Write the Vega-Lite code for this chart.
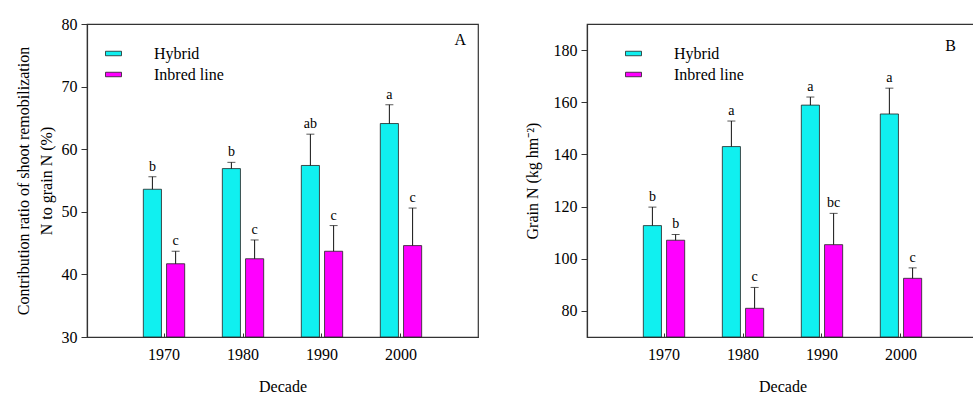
{
  "$schema": "https://vega.github.io/schema/vega-lite/v6.json",
  "padding": {"left": 14, "top": 15, "right": 0, "bottom": 0},
  "background": "white",
  "config": {
    "font": "Liberation Serif",
    "view": {"stroke": "#333", "strokeWidth": 1.2},
    "axis": {
      "labelFont": "Liberation Serif", "labelFontSize": 16, "labelColor": "black",
      "titleFont": "Liberation Serif", "titleFontSize": 16, "titleFontWeight": "normal", "titleColor": "black",
      "domainColor": "#333", "domainWidth": 1.2, "tickColor": "#333", "grid": false
    },
    "axisX": {"tickSize": -4, "labelPadding": 13, "labelAngle": 0, "titlePadding": 16},
    "axisY": {"tickSize": 6, "labelPadding": 4},
    "legend": {
      "orient": "none", "title": null,
      "symbolType": "M-1,-0.28H1V0.28H-1Z", "symbolSize": 256,
      "symbolStrokeColor": "#222", "symbolStrokeWidth": 0.8,
      "labelFont": "Liberation Serif", "labelFontSize": 16, "labelColor": "black",
      "labelOffset": 32, "rowPadding": 4
    },
    "title": {"font": "Liberation Serif", "fontSize": 16, "fontWeight": "normal", "color": "black"}
  },
  "resolve": {"legend": {"color": "independent"}, "scale": {"y": "independent"}},
  "spacing": 44,
  "hconcat": [
    {
      "width": 391, "height": 313,
      "title": {"text": "A", "anchor": "end", "offset": -30, "dx": -12, "dy": 2},
      "data": {"values": [
        {"decade": "1970", "type": "Hybrid", "value": 53.6, "upper": 55.6, "letter": "b"},
        {"decade": "1970", "type": "Inbred line", "value": 41.7, "upper": 43.7, "letter": "c"},
        {"decade": "1980", "type": "Hybrid", "value": 56.9, "upper": 57.9, "letter": "b"},
        {"decade": "1980", "type": "Inbred line", "value": 42.5, "upper": 45.5, "letter": "c"},
        {"decade": "1990", "type": "Hybrid", "value": 57.4, "upper": 62.4, "letter": "ab"},
        {"decade": "1990", "type": "Inbred line", "value": 43.7, "upper": 47.8, "letter": "c"},
        {"decade": "2000", "type": "Hybrid", "value": 64.1, "upper": 67.1, "letter": "a"},
        {"decade": "2000", "type": "Inbred line", "value": 44.6, "upper": 50.6, "letter": "c"}
      ]},
      "encoding": {
        "x": {"field": "decade", "type": "ordinal", "scale": {"paddingInner": 0.4, "paddingOuter": 0.675}, "axis": {"title": "Decade"}},
        "xOffset": {"field": "type", "type": "nominal", "sort": ["Hybrid", "Inbred line"], "scale": {"paddingInner": 0.22, "paddingOuter": 0.13}}
      },
      "layer": [
        {
          "mark": {"type": "bar", "stroke": "#222", "strokeWidth": 0.8},
          "encoding": {
            "y": {"field": "value", "type": "quantitative", "scale": {"domain": [30, 80]}, "axis": {"values": [30, 40, 50, 60, 70, 80], "title": ["Contribution ratio of shoot remobilization", "N to grain N (%)"], "titleLineHeight": 23, "titlePadding": 7}},
            "y2": {"datum": 30},
            "color": {"field": "type", "type": "nominal", "scale": {"domain": ["Hybrid", "Inbred line"], "range": ["#10F0F0", "#FF00FF"]}, "legend": {"legendX": 18, "legendY": 21}}
          }
        },
        {
          "mark": {"type": "rule", "color": "#111", "strokeWidth": 1},
          "encoding": {"y": {"field": "value", "type": "quantitative"}, "y2": {"field": "upper"}}
        },
        {
          "mark": {"type": "tick", "color": "#111", "size": 8, "thickness": 1},
          "encoding": {"y": {"field": "upper", "type": "quantitative"}}
        },
        {
          "mark": {"type": "text", "dy": -10, "fontSize": 14, "color": "black", "font": "Liberation Serif"},
          "encoding": {"y": {"field": "upper", "type": "quantitative"}, "text": {"field": "letter"}}
        }
      ]
    },
    {
      "width": 391, "height": 313,
      "title": {"text": "B", "anchor": "end", "offset": -30, "dx": -22},
      "data": {"values": [
        {"decade": "1970", "type": "Hybrid", "value": 112.7, "upper": 119.8, "letter": "b"},
        {"decade": "1970", "type": "Inbred line", "value": 107.1, "upper": 109.3, "letter": "b"},
        {"decade": "1980", "type": "Hybrid", "value": 143.0, "upper": 152.8, "letter": "a"},
        {"decade": "1980", "type": "Inbred line", "value": 81.0, "upper": 89.0, "letter": "c"},
        {"decade": "1990", "type": "Hybrid", "value": 158.9, "upper": 162.0, "letter": "a"},
        {"decade": "1990", "type": "Inbred line", "value": 105.4, "upper": 117.4, "letter": "bc"},
        {"decade": "2000", "type": "Hybrid", "value": 155.5, "upper": 165.4, "letter": "a"},
        {"decade": "2000", "type": "Inbred line", "value": 92.5, "upper": 96.5, "letter": "c"}
      ]},
      "encoding": {
        "x": {"field": "decade", "type": "ordinal", "scale": {"paddingInner": 0.4, "paddingOuter": 0.675}, "axis": {"title": "Decade"}},
        "xOffset": {"field": "type", "type": "nominal", "sort": ["Hybrid", "Inbred line"], "scale": {"paddingInner": 0.22, "paddingOuter": 0.13}}
      },
      "layer": [
        {
          "mark": {"type": "bar", "stroke": "#222", "strokeWidth": 0.8},
          "encoding": {
            "y": {"field": "value", "type": "quantitative", "scale": {"domain": [70, 190]}, "axis": {"values": [80, 100, 120, 140, 160, 180], "title": "Grain N (kg hm⁻²)", "titlePadding": 13}},
            "y2": {"datum": 70},
            "color": {"field": "type", "type": "nominal", "scale": {"domain": ["Hybrid", "Inbred line"], "range": ["#10F0F0", "#FF00FF"]}, "legend": {"legendX": 38, "legendY": 21}}
          }
        },
        {
          "mark": {"type": "rule", "color": "#111", "strokeWidth": 1},
          "encoding": {"y": {"field": "value", "type": "quantitative"}, "y2": {"field": "upper"}}
        },
        {
          "mark": {"type": "tick", "color": "#111", "size": 8, "thickness": 1},
          "encoding": {"y": {"field": "upper", "type": "quantitative"}}
        },
        {
          "mark": {"type": "text", "dy": -10, "fontSize": 14, "color": "black", "font": "Liberation Serif"},
          "encoding": {"y": {"field": "upper", "type": "quantitative"}, "text": {"field": "letter"}}
        }
      ]
    }
  ]
}
